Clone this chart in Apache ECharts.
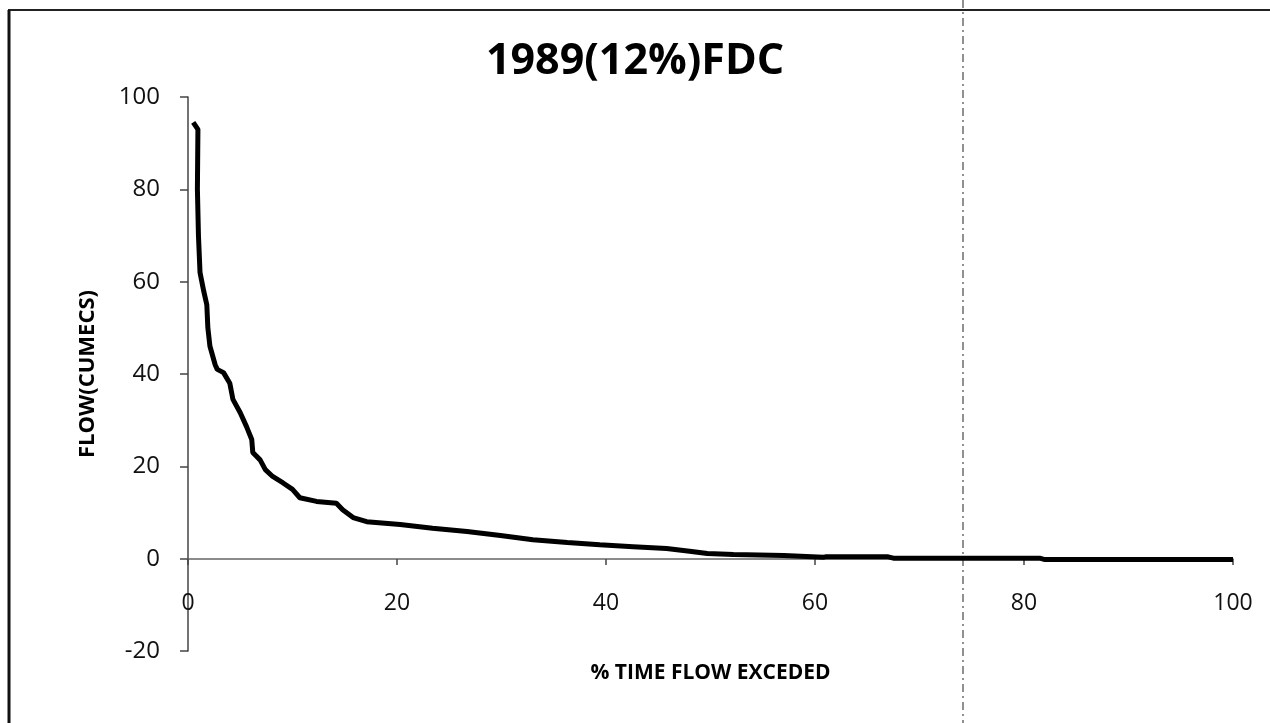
<!DOCTYPE html>
<html>
<head>
<meta charset="utf-8">
<script src="https://cdn.jsdelivr.net/npm/echarts@6/dist/echarts.min.js"></script>
<style>
html,body{margin:0;padding:0;background:#fff;}
#chart{width:1270px;height:723px;}
</style>
</head>
<body>
<div id="chart"></div>
<script>
// Values
var titleText = "1989(12%)FDC";
var xAxisTitle = "% TIME FLOW EXCEDED";
var yAxisTitle = "FLOW(CUMECS)";
var xTicks = [0, 20, 40, 60, 80, 100];
var yTicks = [-20, 0, 20, 40, 60, 80, 100];
// % time flow exceeded
var pctTime = [0.5, 0.95, 0.9, 1.0, 1.15, 1.5, 1.8, 1.9, 2.1, 2.6, 2.8, 3.4, 4.0, 4.3, 5.0, 5.6, 6.1, 6.2, 6.9, 7.4,
  8.1, 9.1, 10.0, 10.7, 12.3, 14.2, 14.8, 15.8, 17.1, 20.3, 23.4, 26.7, 29.9, 33.0, 36.3, 39.4, 42.6, 45.8, 48.0, 49.7,
  52.2, 57.0, 60.8, 61.0, 67.0, 67.5, 81.5, 82.0, 100];
// flow (cumecs)
var flow = [94.5, 93, 80, 70, 62, 58, 55, 50, 46, 42, 41, 40.3, 38, 34.5, 31.6, 28.6, 25.8, 23, 21.4, 19.3,
  17.8, 16.4, 15, 13.2, 12.4, 12, 10.6, 8.9, 8.0, 7.4, 6.6, 5.9, 5.0, 4.1, 3.5, 3.0, 2.6, 2.2, 1.6, 1.1,
  0.9, 0.7, 0.3, 0.4, 0.4, 0.1, 0.1, -0.2, -0.2];

var pts = pctTime.map(function (x, i) { return [x, flow[i]]; });

var chart = echarts.init(document.getElementById('chart'), null, {renderer: 'canvas'});
var font = '"Open Sans", "Liberation Sans", sans-serif';
chart.setOption({
  backgroundColor: '#ffffff',
  animation: false,
  title: {
    text: titleText,
    left: 'center',
    top: 35,
    textStyle: {fontFamily: font, fontWeight: 'bold', fontSize: 43, color: '#000'}
  },
  grid: {left: 188, right: 37, top: 97, bottom: 72, containLabel: false, outerBoundsMode: 'none'},
  xAxis: {
    type: 'value',
    min: xTicks[0], max: xTicks[xTicks.length - 1], interval: 20,
    offset: -92,
    name: xAxisTitle,
    nameLocation: 'middle',
    nameGap: 104,
    nameTextStyle: {fontFamily: font, fontWeight: 'bold', fontSize: 21, color: '#000'},
    axisLine: {onZero: false, lineStyle: {color: '#666', width: 1.5}},
    axisTick: {show: true, inside: false, length: 6, lineStyle: {color: '#444', width: 1.5}},
    axisLabel: {margin: 33, fontFamily: font, fontSize: 23, color: '#111'},
    splitLine: {show: false}
  },
  yAxis: {
    type: 'value',
    min: yTicks[0], max: yTicks[yTicks.length - 1], interval: 20,
    name: yAxisTitle,
    nameLocation: 'middle',
    nameGap: 89,
    nameRotate: 90,
    nameTextStyle: {fontFamily: font, fontWeight: 'bold', fontSize: 22, color: '#000'},
    axisLine: {show: true, onZero: false, lineStyle: {color: '#444', width: 1.5}},
    axisTick: {show: true, inside: false, length: 8, lineStyle: {color: '#444', width: 1.5}},
    axisLabel: {margin: 28, fontFamily: font, fontSize: 24, color: '#111'},
    splitLine: {show: false}
  },
  series: [{
    type: 'line',
    data: pts,
    showSymbol: false,
    symbol: 'none',
    lineStyle: {color: '#000', width: 5},
    z: 3
  }],
  graphic: [
    {type: 'line', shape: {x1: 8, y1: 10, x2: 1270, y2: 10}, style: {stroke: '#222', lineWidth: 2}},
    {type: 'line', shape: {x1: 9, y1: 10, x2: 9, y2: 723}, style: {stroke: '#111', lineWidth: 3}},
    {type: 'line', shape: {x1: 963, y1: 0, x2: 963, y2: 723}, style: {stroke: '#222', lineWidth: 1, lineDash: [8, 4, 2, 4]}}
  ]
});
</script>
</body>
</html>
